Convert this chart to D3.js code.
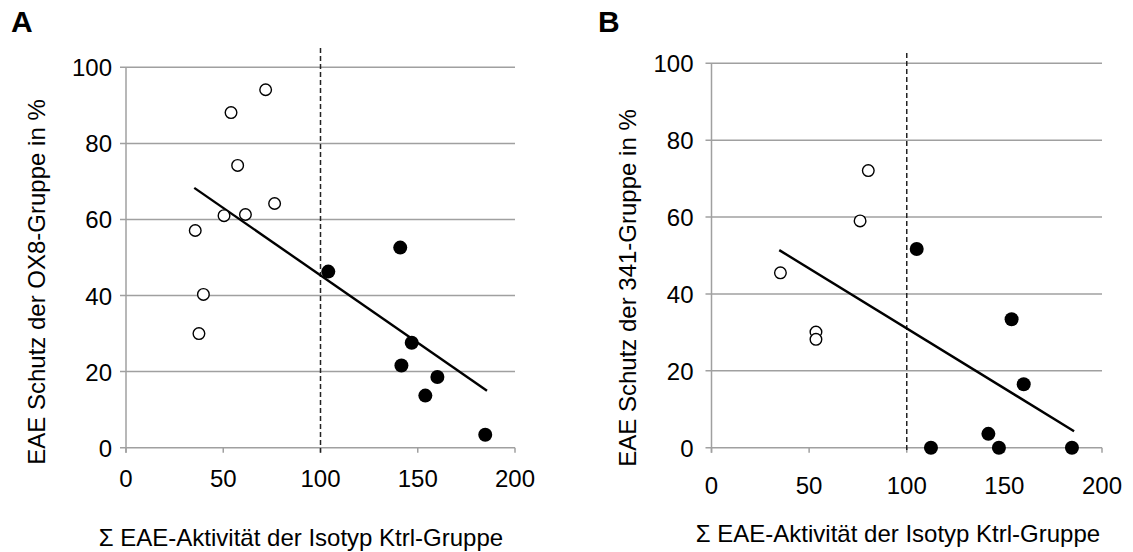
<!DOCTYPE html>
<html>
<head>
<meta charset="utf-8">
<script src="https://cdn.jsdelivr.net/npm/d3@7"></script>
<style>
  body { margin: 0; background: #fff; }
  svg { display: block; font-family: "Liberation Sans", Arial, sans-serif; }
</style>
</head>
<body>
<svg id="chart" width="1133" height="552"></svg>
<script>
// ticks shared by both panels
const xTicks = [0, 50, 100, 150, 200];
const yTicks = [0, 20, 40, 60, 80, 100];
const cutoff = 100;
const xTitle = "Σ EAE-Aktivität der Isotyp Ktrl-Gruppe";

// panel A : OX8
const aOpen = [[71.8, 94.1], [54.0, 88.1], [57.4, 74.2], [76.4, 64.2], [50.4, 61.0],
               [61.4, 61.3], [35.6, 57.1], [39.8, 40.3], [37.5, 30.0]];
const aFilled = [[104.0, 46.3], [141.0, 52.6], [146.9, 27.6], [141.6, 21.6],
                 [160.1, 18.6], [153.9, 13.7], [184.7, 3.4]];
const aTrend = [[35.1, 68.3], [185.6, 15.0]];

// panel B : 341
const bOpen = [[80.3, 72.1], [76.1, 59.0], [35.3, 45.5], [53.5, 30.1], [53.5, 28.2]];
const bFilled = [[105.1, 51.7], [153.7, 33.4], [159.9, 16.5], [141.8, 3.6],
                 [112.4, 0], [147.2, 0], [184.6, 0]];
const bTrend = [[34.7, 51.4], [185.7, 4.3]];

const panels = [
  {letter: "A", yTitle: "EAE Schutz der OX8-Gruppe in %", open: aOpen, filled: aFilled, trend: aTrend,
   x0: 126, x1: 515, yTop: 67.3, yBot: 447.7, dashTop: 48,
   letterX: 11, yLabOff: 14, xLabY: 487, titleX: 301, titleY: 546, yTitleX: 45, yTitleY: 282},
  {letter: "B", yTitle: "EAE Schutz der 341-Gruppe in %", open: bOpen, filled: bFilled, trend: bTrend,
   x0: 711.5, x1: 1102, yTop: 63.3, yBot: 447.7, dashTop: 53,
   letterX: 598, yLabOff: 18, xLabY: 494, titleX: 898, titleY: 542, yTitleX: 636, yTitleY: 288}
];

const svg = d3.select("#chart");
const grey = "#a0a0a0";

panels.forEach(p => {
  const g = svg.append("g");
  const x = d3.scaleLinear().domain([0, 200]).range([p.x0, p.x1]);
  const y = d3.scaleLinear().domain([0, 100]).range([p.yBot, p.yTop]);

  // horizontal grid lines
  g.selectAll(".grid").data(yTicks).enter().append("line")
    .attr("x1", p.x0 - 6).attr("x2", p.x1)
    .attr("y1", d => y(d)).attr("y2", d => y(d))
    .attr("stroke", grey).attr("stroke-width", 1.5);

  // y axis line
  g.append("line").attr("x1", p.x0).attr("x2", p.x0)
    .attr("y1", y(100)).attr("y2", p.yBot + 5)
    .attr("stroke", grey).attr("stroke-width", 1.5);

  // x ticks
  g.selectAll(".xt").data(xTicks).enter().append("line")
    .attr("x1", d => x(d)).attr("x2", d => x(d))
    .attr("y1", p.yBot).attr("y2", p.yBot + 5)
    .attr("stroke", grey).attr("stroke-width", 1.5);

  // tick labels
  g.selectAll(".yl").data(yTicks).enter().append("text")
    .attr("x", p.x0 - p.yLabOff).attr("y", d => y(d) + 9)
    .attr("text-anchor", "end").attr("font-size", 24).attr("fill", "#000")
    .text(d => d);
  g.selectAll(".xl").data(xTicks).enter().append("text")
    .attr("x", d => x(d)).attr("y", p.xLabY)
    .attr("text-anchor", "middle").attr("font-size", 24).attr("fill", "#000")
    .text(d => d);

  // cutoff dashed line
  g.append("line").attr("x1", x(cutoff)).attr("x2", x(cutoff))
    .attr("y1", p.dashTop).attr("y2", p.yBot + 5)
    .attr("stroke", "#222").attr("stroke-width", 1.5)
    .attr("stroke-dasharray", "5,3");

  // trend line
  g.append("path").datum(p.trend)
    .attr("d", d3.line().x(d => x(d[0])).y(d => y(d[1])))
    .attr("stroke", "#000").attr("stroke-width", 2.4).attr("fill", "none");

  g.selectAll(".op").data(p.open).enter().append("circle")
    .attr("cx", d => x(d[0])).attr("cy", d => y(d[1])).attr("r", 5.8)
    .attr("fill", "#fff").attr("stroke", "#000").attr("stroke-width", 1.4);
  g.selectAll(".fp").data(p.filled).enter().append("circle")
    .attr("cx", d => x(d[0])).attr("cy", d => y(d[1])).attr("r", 7)
    .attr("fill", "#000");

  // titles
  g.append("text").attr("x", p.titleX).attr("y", p.titleY)
    .attr("text-anchor", "middle").attr("font-size", 24).attr("fill", "#000")
    .text(xTitle);
  g.append("text")
    .attr("transform", `translate(${p.yTitleX},${p.yTitleY}) rotate(-90)`)
    .attr("text-anchor", "middle").attr("font-size", 24).attr("fill", "#000")
    .text(p.yTitle);
  g.append("text").attr("x", p.letterX).attr("y", 32)
    .attr("font-size", 30).attr("font-weight", "bold").attr("fill", "#000")
    .text(p.letter);
});
</script>
</body>
</html>
